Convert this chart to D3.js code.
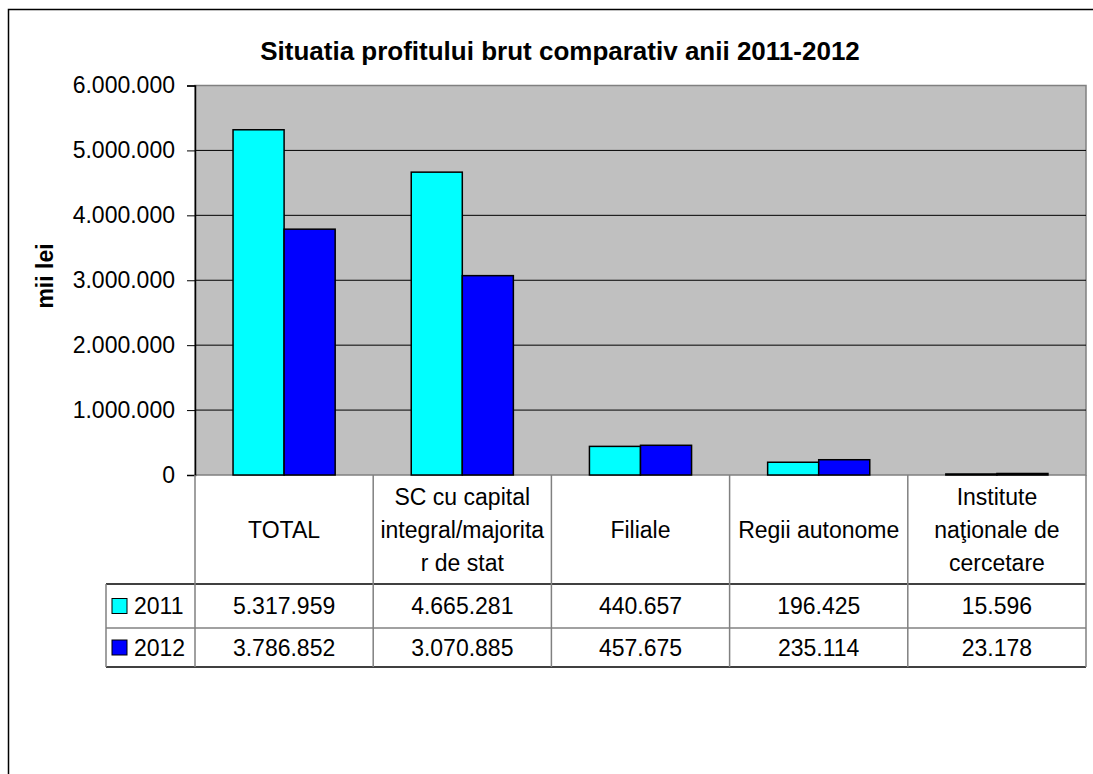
<!DOCTYPE html>
<html><head><meta charset="utf-8">
<script src="https://cdn.jsdelivr.net/npm/d3@7"></script>
<style>body{margin:0;background:#fff}svg{display:block;font-family:"Liberation Sans",Arial,sans-serif}</style>
</head><body><svg id="c" width="1093" height="774"></svg>
<script>
const categories = [["TOTAL"],["SC cu capital","integral/majorita","r de stat"],["Filiale"],["Regii autonome"],["Institute","naţionale de","cercetare"]];
const seriesNames = ["2011","2012"];
const values2011 = [5317959,4665281,440657,196425,15596];
const values2012 = [3786852,3070885,457675,235114,23178];
const colors = ["#00FFFF","#0000FF"];
const yTicks = [0,1000000,2000000,3000000,4000000,5000000,6000000];
const title = "Situatia profitului brut comparativ anii 2011-2012";
const yLabel = "mii lei";

const loc = d3.formatLocale({decimal:",",thousands:".",grouping:[3],currency:["",""]});
const fmt = loc.format(",d");
const svg = d3.select("#c");
svg.append("rect").attr("x",8.5).attr("y",9.5).attr("width",1100).attr("height",800).attr("fill","#fff").attr("stroke","#000").attr("stroke-width",1.5);

const L=195,R=1086,T=85.5,B=475;
const x0 = d3.scaleBand().domain(d3.range(categories.length)).range([L,R]);
const x1 = d3.scaleBand().domain(seriesNames).range([0,x0.bandwidth()]).paddingOuter(0.745);
const y = d3.scaleLinear().domain([0,6000000]).range([B,T]);

svg.append("rect").attr("x",L).attr("y",T).attr("width",R-L).attr("height",B-T).attr("fill","#C0C0C0").attr("stroke","#808080").attr("stroke-width",1.5);
svg.append("g").selectAll("line").data(yTicks.slice(1,-1)).join("line")
 .attr("x1",L).attr("x2",R).attr("y1",d=>y(d)).attr("y2",d=>y(d)).attr("stroke","#000").attr("stroke-width",1);

const series = [values2011, values2012];
seriesNames.forEach((s,si)=>{
  svg.append("g").selectAll("rect").data(series[si]).join("rect")
   .attr("x",(d,i)=>x0(i)+x1(s)).attr("width",x1.bandwidth())
   .attr("y",d=>y(d)).attr("height",d=>B-y(d))
   .attr("fill",colors[si]).attr("stroke","#000").attr("stroke-width",1.5);
});

const ax = svg.append("g").attr("transform",`translate(${L},0)`)
 .call(d3.axisLeft(y).tickValues(yTicks).tickSize(8).tickPadding(12).tickFormat(fmt));
ax.select(".domain").attr("stroke","#000").attr("stroke-width",1.5);
ax.selectAll(".tick line").attr("stroke","#000");
ax.selectAll("text").attr("font-size",23).attr("fill","#000").attr("font-family","Liberation Sans, Arial");

svg.append("text").attr("x",560).attr("y",60).attr("text-anchor","middle").attr("font-weight","bold").attr("font-size",26).text(title);
svg.append("text").attr("transform","translate(53,276) rotate(-90)").attr("text-anchor","middle").attr("font-weight","bold").attr("font-size",23).text(yLabel);

// data table
const rowTops=[475,584,628,667];
const tableLeft=106;
const tg = svg.append("g").attr("font-size",23);
tg.append("line").attr("x1",tableLeft).attr("x2",R).attr("y1",rowTops[1]).attr("y2",rowTops[1]).attr("stroke","#000").attr("stroke-width",1.5);
tg.append("line").attr("x1",tableLeft).attr("x2",R).attr("y1",rowTops[2]).attr("y2",rowTops[2]).attr("stroke","#444").attr("stroke-width",1.2);
tg.append("line").attr("x1",tableLeft).attr("x2",R).attr("y1",rowTops[3]).attr("y2",rowTops[3]).attr("stroke","#000").attr("stroke-width",1.5);
const vx = d3.range(categories.length+1).map(i=> i<categories.length? x0(i): R);
vx.forEach(xx=>{
  tg.append("line").attr("x1",xx).attr("x2",xx).attr("y1",B).attr("y2",rowTops[3]).attr("stroke","#808080").attr("stroke-width",1.5);
});
tg.append("line").attr("x1",tableLeft).attr("x2",tableLeft).attr("y1",rowTops[1]).attr("y2",rowTops[3]).attr("stroke","#808080").attr("stroke-width",1.5);
categories.forEach((lines,i)=>{
  const cx = x0(i)+x0.bandwidth()/2;
  const n=lines.length, lh=33, cy=(rowTops[0]+rowTops[1])/2;
  lines.forEach((t,j)=>{
    tg.append("text").attr("x",cx).attr("y",cy+(j-(n-1)/2)*lh).attr("dy","0.35em").attr("text-anchor","middle").text(t);
  });
});
series.forEach((vals,si)=>{
  const cy=(rowTops[si+1]+rowTops[si+2])/2;
  vals.forEach((v,i)=>{
    tg.append("text").attr("x",x0(i)+x0.bandwidth()/2).attr("y",cy).attr("dy","0.35em").attr("text-anchor","middle").text(fmt(v));
  });
  tg.append("rect").attr("x",112).attr("y",cy-7.5).attr("width",15).attr("height",15).attr("fill",colors[si]).attr("stroke","#000").attr("stroke-width",1);
  tg.append("text").attr("x",134).attr("y",cy).attr("dy","0.35em").text(seriesNames[si]);
});
</script></body></html>
